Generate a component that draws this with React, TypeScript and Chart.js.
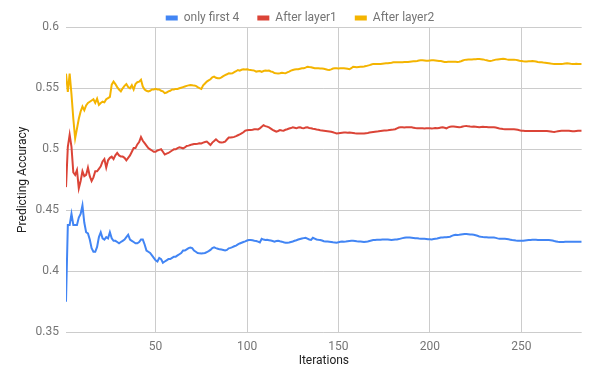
import React, { useEffect, useRef } from "react";
import { Chart, registerables } from "chart.js";

Chart.register(...registerables);

const SERIES_NAMES = ["only first 4", "After layer1", "After layer2"];
const SERIES_COLORS = ["#4285F4", "#DB4437", "#F4B400"];
const X_TICKS = [50, 100, 150, 200, 250];
const Y_TICKS = [0.35, 0.4, 0.45, 0.5, 0.55, 0.6];

const ONLY_FIRST_4 = [
  0.375,0.438,0.438,0.447,0.438,0.438,0.438,0.444,0.447,0.454,
  0.440,0.432,0.431,0.426,0.419,0.416,0.416,0.420,0.428,0.432,
  0.427,0.426,0.428,0.427,0.432,0.427,0.425,0.425,0.424,0.423,
  0.424,0.425,0.426,0.428,0.430,0.426,0.425,0.424,0.423,0.423,
  0.424,0.426,0.426,0.422,0.417,0.416,0.415,0.413,0.411,0.409,
  0.408,0.411,0.410,0.407,0.408,0.409,0.410,0.410,0.411,0.412,
  0.412,0.413,0.414,0.415,0.417,0.417,0.418,0.419,0.4195,0.419,
  0.417,0.416,0.415,0.4147,0.4145,0.4147,0.415,0.4158,0.4165,0.4175,
  0.419,0.4196,0.419,0.4185,0.418,0.4178,0.4174,0.417,0.4175,0.4188,
  0.4192,0.4198,0.4205,0.421,0.422,0.4228,0.4234,0.424,0.4245,0.4252,
  0.4256,0.4256,0.4254,0.425,0.4248,0.4243,0.4236,0.4267,0.426,0.4256,
  0.4258,0.4255,0.4252,0.4248,0.4243,0.4248,0.425,0.4246,0.4243,0.4238,
  0.4234,0.4234,0.4236,0.424,0.4244,0.425,0.4255,0.4261,0.4265,0.4269,
  0.4272,0.4275,0.4268,0.4261,0.4258,0.4275,0.4268,0.4261,0.4258,0.4256,
  0.4252,0.4246,0.4245,0.4244,0.4243,0.4241,0.4238,0.4236,0.4234,0.4238,
  0.4242,0.4245,0.4243,0.4244,0.4246,0.4248,0.425,0.425,0.4248,0.4246,
  0.4245,0.4245,0.4243,0.424,0.4242,0.4244,0.4248,0.4252,0.4256,0.4257,
  0.4258,0.4259,0.4259,0.426,0.4261,0.4261,0.426,0.4258,0.4256,0.4258,
  0.426,0.4261,0.4264,0.4268,0.4272,0.4275,0.4277,0.4278,0.4277,0.4275,
  0.4273,0.4271,0.427,0.4268,0.4267,0.4267,0.4266,0.4265,0.4263,0.4262,
  0.4261,0.4264,0.4267,0.4269,0.4273,0.4277,0.4278,0.4279,0.428,0.4282,
  0.4284,0.429,0.4296,0.43,0.4298,0.4299,0.4301,0.4303,0.4305,0.4306,
  0.4304,0.4302,0.4301,0.43,0.4296,0.4291,0.4286,0.4283,0.4281,0.428,
  0.4279,0.4278,0.4278,0.4278,0.4277,0.4274,0.427,0.4267,0.4267,0.4266,
  0.4266,0.4265,0.4262,0.4259,0.4256,0.4254,0.4252,0.4251,0.425,0.425,
  0.4251,0.4253,0.4255,0.4256,0.4257,0.4258,0.4259,0.4258,0.4257,0.4256,
  0.4256,0.4256,0.4256,0.4257,0.4256,0.4255,0.4252,0.4248,0.4245,0.4242,
  0.424,0.424,0.4241,0.4242,0.4243,0.4243,0.4243,0.4242,0.4243,0.4243,
  0.4242,0.4243,0.4243,
];

const AFTER_LAYER1 = [
  0.469,0.502,0.512,0.502,0.481,0.479,0.483,0.468,0.474,0.482,
  0.478,0.479,0.485,0.478,0.474,0.477,0.482,0.482,0.484,0.486,
  0.490,0.492,0.485,0.491,0.493,0.494,0.492,0.495,0.497,0.495,
  0.494,0.494,0.493,0.491,0.493,0.495,0.498,0.501,0.501,0.504,
  0.506,0.510,0.507,0.505,0.503,0.501,0.500,0.499,0.498,0.498,
  0.499,0.4995,0.500,0.498,0.4957,0.4965,0.497,0.498,0.499,0.500,
  0.500,0.501,0.5016,0.5012,0.5008,0.5015,0.5027,0.503,0.5035,0.504,
  0.5044,0.5043,0.5045,0.505,0.5048,0.5055,0.506,0.5063,0.505,0.5035,
  0.5055,0.5068,0.5082,0.5068,0.5058,0.5055,0.5058,0.5063,0.508,0.5096,
  0.5097,0.5098,0.5102,0.5108,0.5115,0.5122,0.513,0.514,0.5153,0.5156,
  0.5158,0.5158,0.516,0.5164,0.5164,0.5163,0.5172,0.5185,0.5197,0.519,
  0.5186,0.518,0.517,0.516,0.5152,0.5145,0.515,0.5158,0.5155,0.5153,
  0.516,0.5164,0.517,0.5174,0.518,0.5176,0.5172,0.5178,0.518,0.5175,
  0.5172,0.5178,0.518,0.5175,0.5172,0.5168,0.5166,0.5162,0.516,0.5156,
  0.5154,0.5152,0.515,0.5148,0.5146,0.5143,0.514,0.5135,0.513,0.5132,
  0.5134,0.5136,0.5137,0.5137,0.5136,0.5137,0.5135,0.5133,0.5131,0.513,
  0.513,0.513,0.5129,0.513,0.5132,0.5134,0.5137,0.5139,0.5141,0.5143,
  0.5145,0.5148,0.515,0.5152,0.5154,0.5155,0.5156,0.5158,0.516,0.5162,
  0.5165,0.5172,0.5178,0.518,0.518,0.5179,0.518,0.518,0.5181,0.518,
  0.5177,0.5174,0.5172,0.5172,0.5173,0.5172,0.5171,0.5172,0.5173,0.5172,
  0.5171,0.5172,0.5174,0.5172,0.5175,0.5178,0.518,0.5176,0.5172,0.518,
  0.5184,0.5186,0.5186,0.5184,0.5182,0.518,0.5183,0.5187,0.519,0.5191,
  0.5188,0.5186,0.5185,0.5186,0.5184,0.5182,0.518,0.5182,0.5184,0.5183,
  0.5182,0.518,0.518,0.5181,0.518,0.5178,0.5174,0.517,0.5168,0.5166,
  0.5165,0.5164,0.5164,0.5164,0.5164,0.5165,0.5163,0.516,0.5156,0.5153,
  0.5152,0.5151,0.515,0.515,0.515,0.5149,0.515,0.515,0.5149,0.515,
  0.515,0.515,0.5149,0.515,0.5148,0.5146,0.5143,0.5142,0.5145,0.5148,
  0.515,0.5152,0.5152,0.5153,0.5153,0.5152,0.515,0.5148,0.5148,0.515,
  0.5152,0.5153,0.5153,
];

const AFTER_LAYER2 = [
  0.562,0.547,0.562,0.545,0.525,0.509,0.517,0.525,0.531,0.535,
  0.532,0.536,0.538,0.539,0.540,0.541,0.538,0.5415,0.5365,0.538,
  0.539,0.5385,0.541,0.542,0.543,0.553,0.5555,0.5535,0.551,0.549,
  0.5475,0.550,0.552,0.5535,0.551,0.550,0.5525,0.549,0.5535,0.555,
  0.5555,0.557,0.5514,0.549,0.548,0.5475,0.548,0.549,0.549,0.5495,
  0.549,0.549,0.548,0.5475,0.546,0.5465,0.5475,0.548,0.549,0.549,
  0.5495,0.5495,0.550,0.5505,0.551,0.5515,0.552,0.5524,0.5527,0.5525,
  0.5522,0.552,0.551,0.5502,0.5495,0.5525,0.554,0.5555,0.5565,0.5574,
  0.559,0.5596,0.5586,0.5582,0.5582,0.559,0.56,0.5608,0.5615,0.5623,
  0.5622,0.5623,0.5632,0.564,0.565,0.5645,0.5652,0.5656,0.5655,0.5656,
  0.5652,0.565,0.5647,0.5645,0.5637,0.564,0.5642,0.5635,0.5642,0.5645,
  0.5643,0.5645,0.5638,0.5635,0.5625,0.5623,0.5622,0.5624,0.5628,0.5625,
  0.5623,0.563,0.5637,0.5645,0.565,0.5654,0.5656,0.5656,0.566,0.5664,
  0.5664,0.567,0.5677,0.5674,0.5672,0.5668,0.5664,0.5664,0.5664,0.5663,
  0.5662,0.566,0.5656,0.5652,0.565,0.5655,0.5662,0.5664,0.5664,0.5663,
  0.5664,0.5664,0.5664,0.5662,0.566,0.5656,0.5665,0.5677,0.5675,0.5672,
  0.5674,0.5676,0.5677,0.5679,0.5682,0.5686,0.569,0.5695,0.57,0.57,
  0.5699,0.57,0.57,0.5702,0.5704,0.5705,0.5706,0.5708,0.571,0.5713,
  0.5713,0.5714,0.5713,0.5713,0.5714,0.5715,0.5716,0.5716,0.5718,0.572,
  0.5721,0.5722,0.5724,0.5727,0.5729,0.573,0.5728,0.5725,0.5726,0.5728,
  0.5729,0.573,0.5728,0.5726,0.5724,0.5723,0.572,0.5716,0.5716,0.5717,
  0.5717,0.5718,0.5718,0.5717,0.5716,0.5718,0.5722,0.5728,0.5733,0.5735,
  0.5736,0.5737,0.5737,0.5738,0.5739,0.574,0.574,0.5739,0.5737,0.5733,
  0.573,0.5726,0.5724,0.5727,0.5731,0.5735,0.5737,0.5739,0.5741,0.5742,
  0.574,0.5737,0.5735,0.5735,0.5735,0.5735,0.5733,0.573,0.5726,0.5724,
  0.5721,0.572,0.572,0.5721,0.5722,0.5723,0.5721,0.5719,0.5716,0.5714,
  0.5713,0.5711,0.571,0.5708,0.5706,0.5703,0.5701,0.57,0.57,0.57,
  0.57,0.57,0.5701,0.5703,0.5705,0.5703,0.5701,0.57,0.57,0.5701,
  0.57,0.57,0.57,
];

const ITERATIONS = ONLY_FIRST_4.map((_, i) => i + 1);
const SERIES_VALUES = [ONLY_FIRST_4, AFTER_LAYER1, AFTER_LAYER2];

const FONT = "Roboto";

export default function App() {
  const canvasRef = useRef<HTMLCanvasElement | null>(null);

  useEffect(() => {
    const canvas = canvasRef.current;
    if (!canvas) return;
    const chart = new Chart(canvas, {
      type: "line",
      data: {
        labels: ITERATIONS,
        datasets: SERIES_NAMES.map((name, i) => ({
          label: name,
          data: SERIES_VALUES[i],
          borderColor: SERIES_COLORS[i],
          backgroundColor: SERIES_COLORS[i],
          borderWidth: 2,
          pointRadius: 0,
          pointHoverRadius: 0,
          tension: 0,
          fill: false,
        })),
      },
      options: {
        animation: false,
        responsive: false,
        devicePixelRatio: 1,
        layout: { padding: { top: -6, left: 18.3, right: 18.3, bottom: 0 } },
        plugins: {
          tooltip: { enabled: false },
          legend: {
            display: true,
            position: "top",
            align: "center",
            maxHeight: 33.3,
            labels: {
              boxWidth: 12,
              boxHeight: 5,
              padding: 18,
              color: "#757575",
              font: { family: FONT, size: 12 },
              generateLabels: (c: any) =>
                c.data.datasets.map((d: any, i: number) => ({
                  text: d.label,
                  fillStyle: d.borderColor,
                  strokeStyle: d.borderColor,
                  lineWidth: 0,
                  hidden: false,
                  datasetIndex: i,
                  fontColor: "#757575",
                })),
            },
          },
        },
        scales: {
          x: {
            type: "linear",
            min: 1,
            max: ITERATIONS[ITERATIONS.length - 1],
            afterBuildTicks: (s: any) => {
              s.ticks = X_TICKS.map((v) => ({ value: v }));
            },
            afterFit: (s: any) => {
              s.height = 38.7;
            },
            grid: { color: "#cccccc", drawTicks: false, lineWidth: 1 },
            border: { display: false },
            ticks: {
              padding: 7,
              color: "#757575",
              font: { family: FONT, size: 12 },
              maxRotation: 0,
              callback: (v: any) => String(v),
            },
            title: {
              display: true,
              text: "Iterations",
              color: "#222222",
              font: { family: FONT, size: 12 },
              padding: { top: 0, bottom: 3 },
            },
          },
          y: {
            type: "linear",
            min: Y_TICKS[0],
            max: Y_TICKS[Y_TICKS.length - 1],
            afterBuildTicks: (s: any) => {
              s.ticks = Y_TICKS.map((v) => ({ value: v }));
            },
            afterFit: (s: any) => {
              s.width = 47.7;
            },
            grid: { color: "#cccccc", drawTicks: false, lineWidth: 1 },
            border: { display: false },
            ticks: {
              padding: 7,
              color: "#757575",
              font: { family: FONT, size: 12 },
              callback: (v: any) => String(v),
            },
            title: {
              display: true,
              text: "Predicting Accuracy",
              color: "#222222",
              font: { family: FONT, size: 12 },
              padding: { top: -2.8, bottom: 0 },
            },
          },
        },
      },
    });
    return () => chart.destroy();
  }, []);

  return (
    <div style={{ position: "absolute", left: 0, top: 0, width: 600, height: 371, background: "#ffffff" }}>
      <canvas ref={canvasRef} width={600} height={371} style={{ display: "block", width: 600, height: 371 }} />
    </div>
  );
}
